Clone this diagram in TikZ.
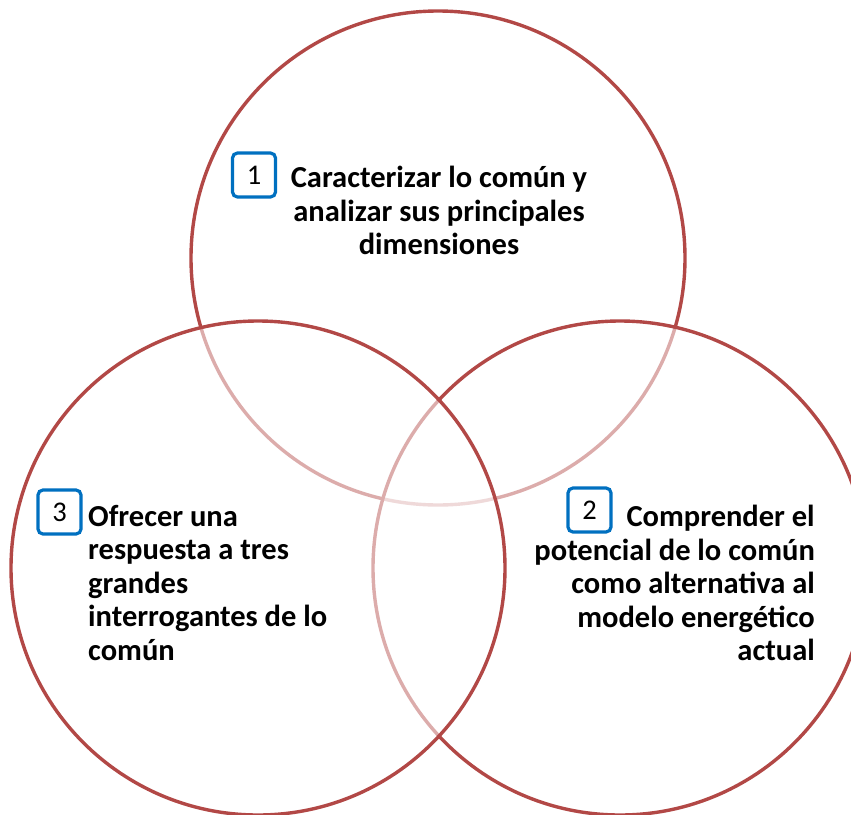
\documentclass[tikz,border=0pt]{standalone}
\usepackage{fontspec}
\setmainfont{Carlito}
\usetikzlibrary{calc,positioning}
\definecolor{ringred}{HTML}{B24846}
\definecolor{numblue}{HTML}{0070C0}

\begin{document}
\begin{tikzpicture}[x=1pt,y=-1pt,
  ring/.style={circle, draw=ringred, line width=3.4pt, fill=white, fill opacity=0.55,
               minimum size=494pt, inner sep=0pt},
  numbox/.style={draw=numblue, line width=3.2pt, rounded corners=5pt, minimum width=43pt,
                 minimum height=44pt, inner sep=0pt, font=\fontsize{28.5}{32}\selectfont},
  goal/.style={inner sep=0pt, font=\fontsize{30.5}{33.5}\selectfont\bfseries}]

\useasboundingbox (0,0) rectangle (851,814);

% the three rings, drawn top, right, left
\node[ring] (top) at (438,258) {};
\node[ring] (right) at (620,568) {};
\node[ring] (left) at (258,568) {};

% goals
\node[goal, align=center, anchor=north] (g1) at (439,166) {Caracterizar lo común y\\analizar sus principales\\dimensiones};
\node[goal, align=right, anchor=north east] (g2) at (815,505) {Comprender el\\potencial de lo común\\como alternativa al\\modelo energético\\actual};
\node[goal, align=left, anchor=north west] (g3) at (88,505) {Ofrecer una\\respuesta a tres\\grandes\\interrogantes de lo\\común};

\node[numbox] (n1) at (254,175) {1};
\node[numbox] (n2) at (589.5,510) {2};
\node[numbox] (n3) at (59.5,512) {3};

\end{tikzpicture}
\end{document}
